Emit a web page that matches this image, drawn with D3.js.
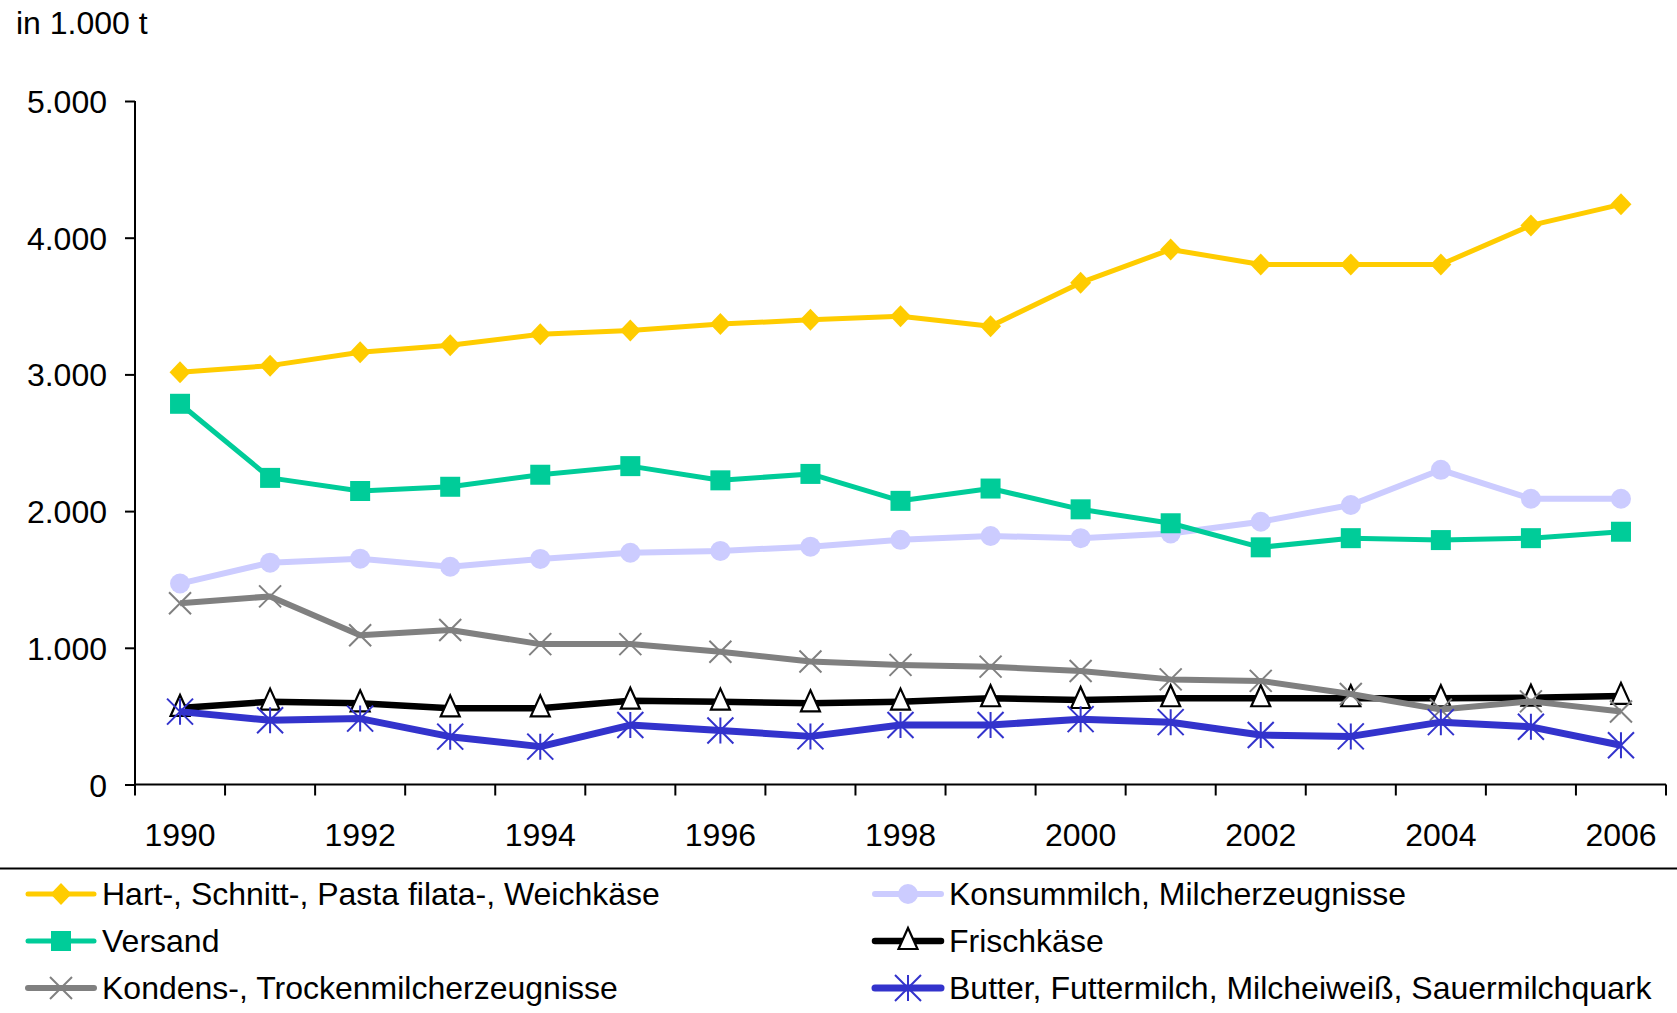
<!DOCTYPE html>
<html><head><meta charset="utf-8">
<script src="https://cdn.jsdelivr.net/npm/d3@7"></script>
<style>
html,body{margin:0;padding:0;background:#fff;}
svg{display:block;}
text{font-family:"Liberation Sans",Arial,Helvetica,sans-serif;fill:#000;}
</style></head>
<body>
<svg id="chart" width="1677" height="1013"></svg>
<script>
const years = d3.range(1990, 2007).map(String);
const yTicks = [0, 1000, 2000, 3000, 4000, 5000];
const xLabelYears = ["1990","1992","1994","1996","1998","2000","2002","2004","2006"];
const unitLabel = "in 1.000 t";

const seriesNames = [
  "Hart-, Schnitt-, Pasta filata-, Weichkäse",
  "Konsummilch, Milcherzeugnisse",
  "Versand",
  "Frischkäse",
  "Kondens-, Trockenmilcherzeugnisse",
  "Butter, Futtermilch, Milcheiweiß, Sauermilchquark"
];
const hartValues      = [3015,3064,3162,3213,3293,3321,3368,3399,3426,3353,3671,3914,3804,3804,3804,4090,4244];
const konsumValues    = [1470,1623,1652,1593,1650,1695,1709,1740,1790,1818,1802,1836,1922,2045,2302,2090,2090];
const versandValues   = [2785,2243,2147,2178,2266,2329,2225,2272,2075,2165,2013,1911,1735,1802,1788,1802,1849];
const frischValues    = [560,606,594,557,557,613,606,594,606,631,618,631,631,631,631,635,648];
const kondensValues   = [1326,1376,1092,1130,1027,1027,971,900,875,862,830,769,758,662,548,608,534];
const butterValues    = [533,470,482,350,277,435,395,352,435,435,478,456,362,352,456,422,287];

const seriesColors = ["#FFCC00","#CCCCFF","#00CC99","#000000","#808080","#3333CC"];
const seriesMarkers = ["diamond","circle","square","triangle","x","star"];
const seriesValues = [hartValues, konsumValues, versandValues, frischValues, kondensValues, butterValues];
const lineWidths = [5,6,5,6.5,6,7];
const FS = 32;

const svg = d3.select("#chart");
const fmt = d3.formatLocale({decimal:",", thousands:".", grouping:[3], currency:["","€"]}).format(",d");

const x = d3.scaleBand().domain(years).range([135, 1666]).padding(0);
const y = d3.scaleLinear().domain([0, 5000]).range([784.5, 101]);
const cx = d => x(d) + x.bandwidth()/2;

// unit label
svg.append("text").attr("x", 16).attr("y", 34).attr("font-size", FS).text(unitLabel);

// y axis
const yAxis = d3.axisLeft(y).tickValues(yTicks).tickFormat(fmt).tickSize(10).tickPadding(18);
const gy = svg.append("g").attr("transform", "translate(135,0)").call(yAxis);
gy.select(".domain").attr("stroke", "#000").attr("stroke-width", 2).attr("d", `M0,${y(5000)}V${y(0)}`);
gy.selectAll(".tick line").attr("stroke", "#000").attr("stroke-width", 2);
gy.selectAll(".tick text").attr("font-size", FS).attr("font-family", '"Liberation Sans",Arial,sans-serif').attr("fill","#000").attr("dy","0.36em");

// x axis: ticks at category boundaries
const gx = svg.append("g").attr("transform", `translate(0,${y(0)})`);
gx.append("line").attr("x1", 135).attr("x2", 1666).attr("y1", 0).attr("y2", 0).attr("stroke", "#000").attr("stroke-width", 2);
const bounds = years.map(d => x(d)).concat([x(years[years.length-1]) + x.bandwidth()]);
gx.selectAll("line.tk").data(bounds).join("line").attr("class","tk")
  .attr("x1", d => d).attr("x2", d => d).attr("y1", 0).attr("y2", 11)
  .attr("stroke", "#000").attr("stroke-width", 2);
gx.selectAll("text").data(xLabelYears).join("text")
  .attr("x", d => cx(d)).attr("y", 846 - y(0)).attr("text-anchor", "middle")
  .attr("font-size", FS).text(d => d);

// markers
function drawMarker(g, type, color, px, py) {
  if (type === "diamond") {
    g.append("path").attr("d", `M${px},${py-11}L${px+10.5},${py}L${px},${py+11}L${px-10.5},${py}Z`).attr("fill", color);
  } else if (type === "square") {
    g.append("rect").attr("x", px-10).attr("y", py-10).attr("width", 20).attr("height", 20).attr("fill", color);
  } else if (type === "circle") {
    g.append("circle").attr("cx", px).attr("cy", py).attr("r", 10).attr("fill", color);
  } else if (type === "triangle") {
    g.append("path").attr("d", `M${px},${py-13}L${px+9.5},${py+8}L${px-9.5},${py+8}Z`)
      .attr("fill", "#fff").attr("stroke", "#000").attr("stroke-width", 2.2).attr("stroke-linejoin","miter");
  } else if (type === "x") {
    const s = 11;
    g.append("path").attr("d", `M${px-s},${py-s}L${px+s},${py+s}M${px-s},${py+s}L${px+s},${py-s}`)
      .attr("stroke", color).attr("stroke-width", 2).attr("fill","none");
  } else if (type === "star") {
    const s = 13;
    g.append("path").attr("d", `M${px-s},${py-s}L${px+s},${py+s}M${px-s},${py+s}L${px+s},${py-s}M${px},${py-s}L${px},${py+s}`)
      .attr("stroke", color).attr("stroke-width", 2).attr("fill","none");
  }
}

const line = d3.line().x((d,i) => cx(years[i])).y(d => y(d));
seriesValues.forEach((vals, si) => {
  const g = svg.append("g");
  g.append("path").datum(vals).attr("d", line).attr("fill", "none")
    .attr("stroke", seriesColors[si]).attr("stroke-width", lineWidths[si]).attr("stroke-linejoin","round");
  vals.forEach((v, i) => drawMarker(g, seriesMarkers[si], seriesColors[si], cx(years[i]), y(v)));
});

// separator
svg.append("line").attr("x1", 0).attr("x2", 1677).attr("y1", 868.5).attr("y2", 868.5).attr("stroke", "#000").attr("stroke-width", 2);

// legend
const legendPos = [
  {lx:28, tx:102, cy:894}, {lx:875, tx:949, cy:894},
  {lx:28, tx:102, cy:941}, {lx:875, tx:949, cy:941},
  {lx:28, tx:102, cy:988}, {lx:875, tx:949, cy:988}
];
seriesNames.forEach((name, si) => {
  const p = legendPos[si];
  const g = svg.append("g");
  g.append("line").attr("x1", p.lx).attr("x2", p.lx+66).attr("y1", p.cy).attr("y2", p.cy)
    .attr("stroke", seriesColors[si]).attr("stroke-width", lineWidths[si]).attr("stroke-linecap","round");
  drawMarker(g, seriesMarkers[si], seriesColors[si], p.lx+33, p.cy);
  g.append("text").attr("x", p.tx).attr("y", p.cy + 11).attr("font-size", FS).text(name);
});
</script>
</body></html>
